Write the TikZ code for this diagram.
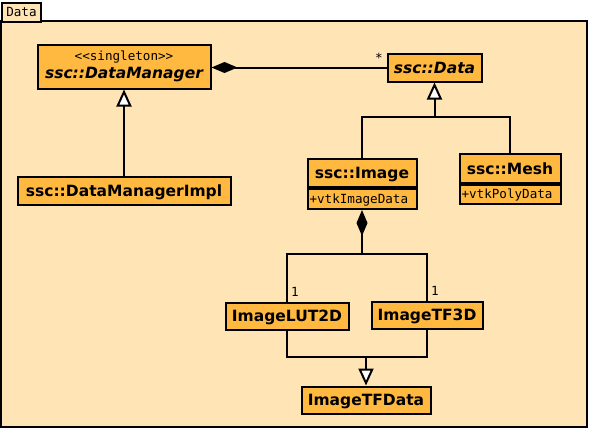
\documentclass[tikz,border=0pt]{standalone}
\usepackage{fontspec}
\setsansfont{DejaVu Sans}
\setmonofont{DejaVu Sans Mono}
\usetikzlibrary{arrows.meta}

\definecolor{pkgfill}{RGB}{255,228,181}
\definecolor{classfill}{RGB}{255,184,64}

\begin{document}
\begin{tikzpicture}[x=1pt, y=-1pt, line width=2pt,
  every node/.style={font=\sffamily\bfseries\fontsize{15.5}{18}\selectfont},
  umlclass/.style={draw, fill=classfill, inner sep=0pt, text height=11.3pt, text depth=0pt},
  umlattr/.style={draw, fill=classfill, inner xsep=2pt, inner ysep=0pt, text height=9.2pt, text depth=0.5pt,
    align=left, font=\ttfamily\fontsize{12.6}{14}\selectfont},
  mult/.style={inner sep=0pt, font=\ttfamily\fontsize{12.6}{14}\selectfont},
  gen/.style={-{Triangle[length=17pt, width=15pt, fill=white]}},
  comp/.style={{Diamond[length=26pt, width=11pt]}-}]

  \useasboundingbox (0,0) rectangle (590,429);

  % package frame
  \draw[fill=pkgfill] (1,21) rectangle (587,427);
  \node[draw, fill=pkgfill, inner sep=0pt, minimum width=39pt, minimum height=19.5pt,
    anchor=north west, font=\ttfamily\fontsize{12.6}{14}\selectfont] (pkgtab) at (1,1.5) {Data};

  % classes
  \node[draw, fill=classfill, inner sep=0pt, minimum width=173pt, minimum height=44pt, align=center] (dmgr) at (124,66.5)
    {{\ttfamily\mdseries\fontsize{12.6}{14}\selectfont <<singleton>>}\\[0pt]{\itshape ssc::DataManager}};
  \node[umlclass, minimum width=94pt, minimum height=28pt] (data) at (434.5,67.5) {\itshape ssc::Data};
  \node[umlclass, minimum width=213pt, minimum height=28pt] (dmimpl) at (124,190.5) {ssc::DataManagerImpl};

  \node[umlclass, minimum width=109pt, minimum height=28pt] (image) at (362,173) {ssc::Image};
  \node[umlattr, text width=105pt, minimum height=20pt, anchor=north] (imageattr) at (image.south) {+vtkImageData};
  \node[umlclass, minimum width=101pt, minimum height=29pt] (mesh) at (510,168.5) {ssc::Mesh};
  \node[umlattr, text width=97pt, minimum height=19pt, anchor=north] (meshattr) at (mesh.south) {+vtkPolyData};

  \node[umlclass, minimum width=123pt, minimum height=27pt] (lut) at (287,316) {ImageLUT2D};
  \node[umlclass, minimum width=111pt, minimum height=27pt] (tf) at (427,315) {ImageTF3D};
  \node[umlclass, minimum width=129pt, minimum height=27pt] (tfdata) at (366,400) {ImageTFData};

  % joints
  \coordinate (datajoin) at (434.5,117);
  \coordinate (imgjoin) at (362,254);
  \coordinate (tfjoin) at (366,357);

  % connectors
  \draw[comp] (dmgr.east |- data.west) -- (data.west);
  \draw[gen] (dmimpl) -- (dmgr);

  \draw (image.north) |- (datajoin) -| (mesh.north);
  \draw[gen] (datajoin) -- (data.south);

  \draw[comp] (imageattr.south) -- (imgjoin);
  \draw (lut.north) |- (imgjoin) -| (tf.north);

  \draw (lut.south) |- (tfjoin) -| (tf.south);
  \draw[gen] (tfjoin) -- (tfdata.north);

  % multiplicities
  \node[mult] (datamult) at (379,58) {*};
  \node[mult] (lutmult) at (295,292) {1};
  \node[mult] (tfmult) at (435,291) {1};

\end{tikzpicture}
\end{document}
